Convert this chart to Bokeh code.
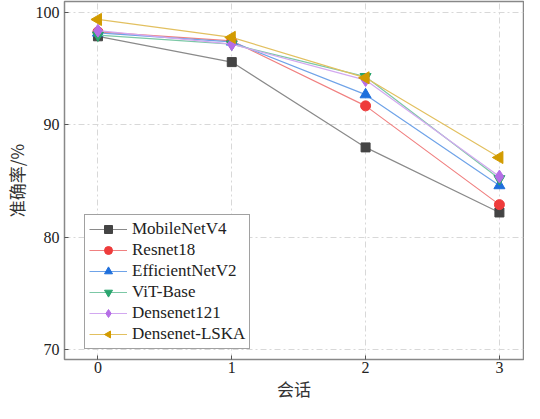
import math
from bokeh.plotting import figure
from bokeh.models import Legend, LegendItem, Range1d, FixedTicker, ColumnDataSource
from bokeh.embed import file_html
from bokeh.resources import INLINE

sessions = [0, 1, 2, 3]
mobilenetv4 = [97.9, 95.6, 88.0, 82.2]
resnet18 = [98.3, 97.5, 91.7, 82.9]
efficientnetv2 = [98.2, 97.4, 92.7, 84.6]
vit_base = [98.0, 97.2, 94.3, 85.2]
densenet121 = [98.4, 97.2, 94.0, 85.4]
densenet_lska = [99.4, 97.8, 94.2, 87.1]
x_label = "会话"
y_label = "准确率/%"

series = [
    ("MobileNetV4", mobilenetv4, "#444444", "#8a8a8a", "square", 9),
    ("Resnet18", resnet18, "#ee3b3b", "#f08080", "circle", 10),
    ("EfficientNetV2", efficientnetv2, "#1e6fdc", "#6fa3e8", "triangle", 11),
    ("ViT-Base", vit_base, "#2aa56e", "#7cc8a6", "inverted_triangle", 11),
    ("Densenet121", densenet121, "#b56ee6", "#d2a8f0", "diamond", 13),
    ("Densenet-LSKA", densenet_lska, "#d29b00", "#e2c060", "ngon", 7),
]

p = figure(width=524, height=403, output_backend="svg", toolbar_location=None,
           x_range=Range1d(-0.25, 3.18), y_range=Range1d(69.1, 101.0),
           min_border_left=54, min_border_right=1, min_border_top=1, min_border_bottom=40)

serif = "Liberation Serif"
cjk = "Noto Sans CJK SC"

items = []
for name, vals, mc, lc, marker, size in series:
    src = ColumnDataSource(dict(x=sessions, y=vals))
    r1 = p.line("x", "y", source=src, line_color=lc, line_width=1.2)
    if marker == "ngon":
        r2 = p.ngon("x", "y", source=src, radius=size, radius_units="screen", n=3,
                    angle=math.pi / 2, fill_color=mc, line_color=mc)
    else:
        r2 = p.scatter("x", "y", source=src, marker=marker, size=size,
                       fill_color=mc, line_color=mc)
    items.append(LegendItem(label=name, renderers=[r1, r2]))

legend = Legend(items=items, location=(20, 10), label_text_font=serif,
                label_text_font_size="17px", label_text_color="#222222",
                glyph_width=38, glyph_height=20, label_height=20, spacing=1,
                padding=4, margin=0, border_line_color="#444444", border_line_width=1,
                background_fill_alpha=1.0, label_standoff=5)
p.add_layout(legend, "center")

p.xaxis.ticker = FixedTicker(ticks=[0, 1, 2, 3])
p.yaxis.ticker = FixedTicker(ticks=[70, 80, 90, 100])
for ax in (p.xaxis, p.yaxis):
    ax.major_tick_in = 4
    ax.major_tick_out = 0
    ax.minor_tick_line_color = None
    ax.axis_line_color = "#888888"
    ax.major_tick_line_color = "#555555"
    ax.major_label_text_font = serif
    ax.major_label_text_font_size = "16px"
    ax.major_label_text_color = "#222222"
    ax.axis_label_text_font = cjk
    ax.axis_label_text_font_size = "17px"
    ax.axis_label_text_font_style = "normal"
    ax.axis_label_text_color = "#333333"
p.xaxis.axis_label = x_label
p.yaxis.axis_label = y_label
p.xaxis.major_label_standoff = 2
p.yaxis.major_label_standoff = 5
p.xaxis.axis_label_standoff = 0
p.yaxis.axis_label_standoff = 4

for g in (p.xgrid, p.ygrid):
    g.grid_line_color = "#d8d8d8"
    g.grid_line_dash = "6 3 2 3"
    g.grid_line_width = 1
p.xgrid.ticker = FixedTicker(ticks=[0, 1, 2, 3])
p.ygrid.ticker = FixedTicker(ticks=[70, 80, 90, 100])

p.outline_line_color = "#888888"
p.outline_line_width = 1.5

open("out.html", "w").write(file_html(p, INLINE))
